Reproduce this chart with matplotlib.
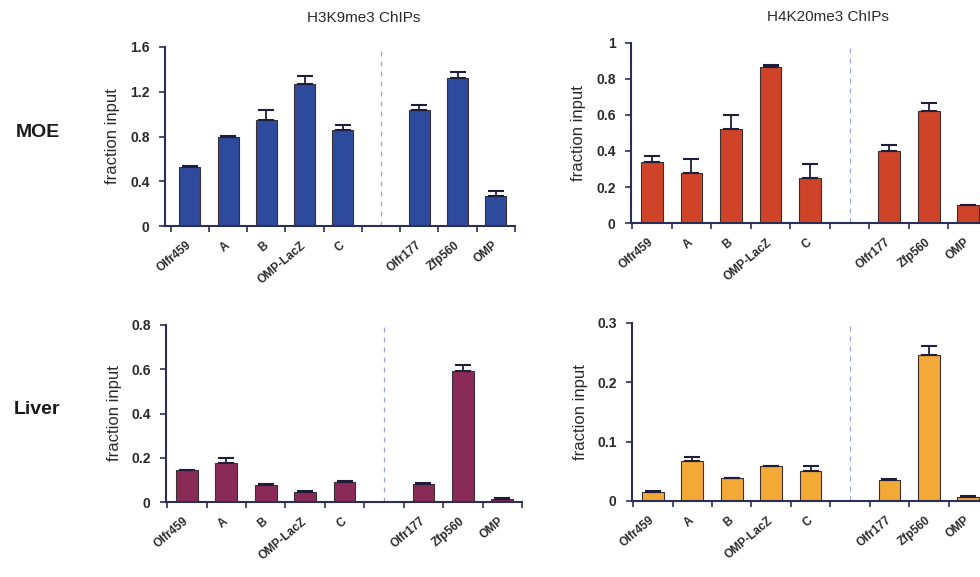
import matplotlib
matplotlib.use("Agg")
import matplotlib.pyplot as plt
import numpy as np

plt.rcParams['font.family'] = ['Liberation Sans', 'DejaVu Sans']

loci = ["Olfr459", "A", "B", "OMP-LacZ", "C", "Olfr177", "Zfp560", "OMP"]
slots = [0, 1, 2, 3, 4, 6, 7, 8]

h3k9_moe = [0.53, 0.80, 0.95, 1.27, 0.86, 1.04, 1.32, 0.27]
h3k9_moe_err = [0.005, 0.005, 0.09, 0.07, 0.045, 0.045, 0.06, 0.045]

h4k20_moe = [0.34, 0.28, 0.52, 0.865, 0.25, 0.40, 0.62, 0.10]
h4k20_moe_err = [0.035, 0.075, 0.08, 0.015, 0.08, 0.035, 0.045, 0.0]

h3k9_liver = [0.143, 0.175, 0.078, 0.045, 0.092, 0.080, 0.59, 0.015]
h3k9_liver_err = [0.003, 0.022, 0.005, 0.003, 0.002, 0.005, 0.028, 0.005]

h4k20_liver = [0.015, 0.067, 0.039, 0.059, 0.051, 0.035, 0.246, 0.006]
h4k20_liver_err = [0.002, 0.008, 0.0, 0.0, 0.008, 0.002, 0.016, 0.002]

W, H = 980, 577
fig = plt.figure(figsize=(W / 100, H / 100), dpi=100)


def px_axes(x0, x1, ytop, ybot):
    return fig.add_axes([x0 / W, 1 - ybot / H, (x1 - x0) / W, (ybot - ytop) / H])


axis_col = "#2c2f55"
text_col = "#2a2a2a"

panels = [
    (px_axes(165, 515, 47, 226), h3k9_moe, h3k9_moe_err, "#2d4a9d",
     [0, 0.4, 0.8, 1.2, 1.6], ["0", "0.4", "0.8", "1.2", "1.6"], -0.65),
    (px_axes(631, 988, 43, 223), h4k20_moe, h4k20_moe_err, "#cf4428",
     [0, 0.2, 0.4, 0.6, 0.8, 1.0], ["0", "0.2", "0.4", "0.6", "0.8", "1"], -0.53),
    (px_axes(166, 522, 325, 502), h3k9_liver, h3k9_liver_err, "#8a2a56",
     [0, 0.2, 0.4, 0.6, 0.8], ["0", "0.2", "0.4", "0.6", "0.8"], -0.53),
    (px_axes(632, 988, 323, 501), h4k20_liver, h4k20_liver_err, "#f2a936",
     [0, 0.1, 0.2, 0.3], ["0", "0.1", "0.2", "0.3"], -0.53),
]

for ax, vals, errs, col, yt, ytl, xl in panels:
    ax.bar(slots, vals, width=0.55, color=col, edgecolor="#3a3030",
           linewidth=0.8, zorder=2)
    ax.errorbar(slots, vals, yerr=[np.zeros(len(errs)), errs], fmt="none",
                ecolor="#1e1e3a", elinewidth=1.3, capsize=5.5, capthick=1.5,
                zorder=3)
    ax.set_xlim(xl, 8.5)
    ax.set_ylim(0, yt[-1])
    ax.axvline(5, ymin=0, ymax=1, color="#9aa6d0", linestyle=(0, (4, 4)),
               linewidth=0.9, zorder=1)
    for s in ("top", "right"):
        ax.spines[s].set_visible(False)
    for s in ("left", "bottom"):
        ax.spines[s].set_color(axis_col)
        ax.spines[s].set_linewidth(1.5)
    ax.set_yticks(yt)
    ax.set_yticklabels(ytl, fontsize=10, fontweight="bold", color=text_col)
    ax.tick_params(axis="y", direction="out", length=4, width=1.2,
                   color=axis_col, pad=7)
    ax.set_xticks(slots)
    ax.set_xticklabels(loci, rotation=40, ha="right", va="center",
                       rotation_mode="anchor", fontsize=8.5,
                       fontweight="bold", color=text_col)
    ax.tick_params(axis="x", which="major", length=0, pad=13)
    ax.set_xticks(np.arange(-0.5, 9, 1.0), minor=True)
    ax.tick_params(axis="x", which="minor", direction="out", length=4,
                   width=1.2, color=axis_col)
    ax.set_ylabel("fraction input", fontsize=12, color=text_col, labelpad=7)
    ax.patch.set_alpha(0)

fig.text(364 / W, 1 - 18 / H, "H3K9me3 ChIPs", ha="center", va="center",
         fontsize=11, color=text_col)
fig.text(828 / W, 1 - 17 / H, "H4K20me3 ChIPs", ha="center", va="center",
         fontsize=11, color=text_col)
fig.text(38 / W, 1 - 132 / H, "MOE", ha="center", va="center",
         fontsize=14, fontweight="bold", color="#1a1a1a")
fig.text(37 / W, 1 - 409 / H, "Liver", ha="center", va="center",
         fontsize=14, fontweight="bold", color="#1a1a1a")

fig.savefig("out.png", dpi=100)
